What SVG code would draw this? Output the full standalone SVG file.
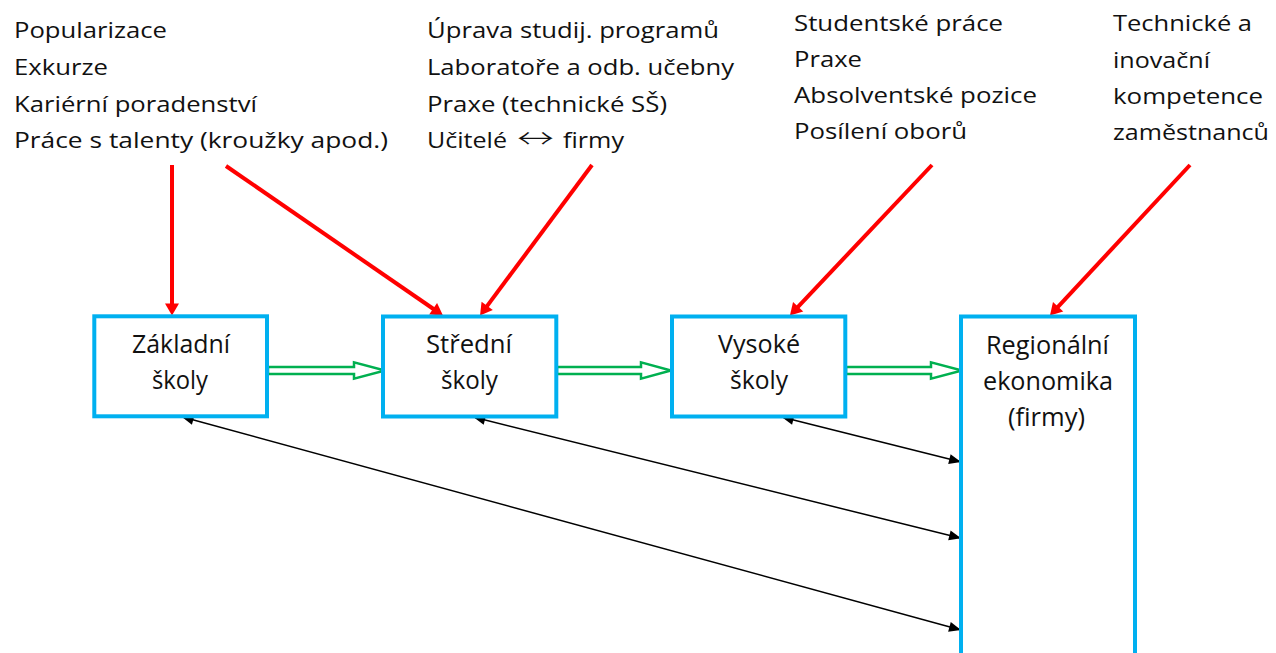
<svg xmlns="http://www.w3.org/2000/svg" width="1276" height="653" viewBox="0 0 1276 653">
<style>
.bg{fill:#ffffff}
.box{fill:#ffffff;stroke:#00B0F0;stroke-width:4}
.lbl{font-family:"Open Sans","Liberation Sans","DejaVu Sans",sans-serif;font-size:22px;fill:#111111}
.bt{font-family:"Open Sans","Liberation Sans","DejaVu Sans",sans-serif;font-size:25px;fill:#111111;text-anchor:middle}
.arr{font-family:"Noto Sans CJK SC","DejaVu Sans",sans-serif;font-size:26px;font-weight:300}
.red{stroke:#FF0000;stroke-width:4;fill:none;marker-end:url(#rh)}
.blk{stroke:#000000;stroke-width:1.5;fill:none;marker-start:url(#bh);marker-end:url(#bh)}
.grn{fill:#ffffff;stroke:#00B050;stroke-width:2.5;stroke-linejoin:miter}
</style>
<defs>
<marker id="rh" markerUnits="userSpaceOnUse" markerWidth="14" markerHeight="14" refX="4" refY="7" orient="auto" overflow="visible">
<path d="M0,0 L12,7 L0,14 z" fill="#FF0000"/>
</marker>
<marker id="bh" markerUnits="userSpaceOnUse" markerWidth="12" markerHeight="10" refX="10" refY="5" orient="auto-start-reverse" overflow="visible">
<path d="M0,0 L12,5 L0,10 z" fill="#000000"/>
</marker>
</defs>
<rect class="bg" x="0" y="0" width="1276" height="653"/>

<g id="connectors">
<g id="green-flow">
<polygon class="grn" points="268,367 354,367 354,362.3 385,370.5 354,378.7 354,374 268,374"/>
<polygon class="grn" points="557,367 641,367 641,362.3 671,370.5 641,378.7 641,374 557,374"/>
<polygon class="grn" points="846,367 931,367 931,362.3 962,370.5 931,378.7 931,374 846,374"/>
</g>
<g id="red-arrows">
<line class="red" x1="172" y1="165" x2="172" y2="307.5"/>
<line class="red" x1="226" y1="166" x2="436.4" y2="311"/>
<line class="red" x1="592" y1="165" x2="484.8" y2="309.1"/>
<line class="red" x1="932" y1="165" x2="795.4" y2="309.6"/>
<line class="red" x1="1190" y1="165" x2="1055.4" y2="309.6"/>
</g>
<g id="black-arrows">
<line class="blk" x1="183.6" y1="417.2" x2="959.1" y2="629.5"/>
<line class="blk" x1="475.2" y1="417.5" x2="959.1" y2="537.8"/>
<line class="blk" x1="783.6" y1="417.5" x2="959.1" y2="461.5"/>
</g>
</g>

<g id="node-zakladni">
<rect class="box" x="94.3" y="316.3" width="172.7" height="100"/>
<text class="bt" x="181" y="353" textLength="98" lengthAdjust="spacingAndGlyphs">Základní</text>
<text class="bt" x="180" y="389" textLength="56" lengthAdjust="spacingAndGlyphs">školy</text>
</g>
<g id="node-stredni">
<rect class="box" x="383" y="316.5" width="173.3" height="100"/>
<text class="bt" x="469" y="353" textLength="86" lengthAdjust="spacingAndGlyphs">Střední</text>
<text class="bt" x="469.5" y="389" textLength="57" lengthAdjust="spacingAndGlyphs">školy</text>
</g>
<g id="node-vysoke">
<rect class="box" x="672" y="316.5" width="173.3" height="100"/>
<text class="bt" x="759" y="353" textLength="82" lengthAdjust="spacingAndGlyphs">Vysoké</text>
<text class="bt" x="759" y="389" textLength="58" lengthAdjust="spacingAndGlyphs">školy</text>
</g>
<g id="node-regionalni">
<rect class="box" x="961" y="316.5" width="174" height="400"/>
<text class="bt" x="1047.5" y="354" textLength="123" lengthAdjust="spacingAndGlyphs">Regionální</text>
<text class="bt" x="1048" y="390" textLength="130" lengthAdjust="spacingAndGlyphs">ekonomika</text>
<text class="bt" x="1046.5" y="426" textLength="77" lengthAdjust="spacingAndGlyphs">(firmy)</text>
</g>

<g id="text-zs">
<text class="lbl" x="14" y="38" textLength="153" lengthAdjust="spacingAndGlyphs">Popularizace</text>
<text class="lbl" x="14" y="75" textLength="94" lengthAdjust="spacingAndGlyphs">Exkurze</text>
<text class="lbl" x="14" y="111.7" textLength="243" lengthAdjust="spacingAndGlyphs">Kariérní poradenství</text>
<text class="lbl" x="14" y="148.3" textLength="374" lengthAdjust="spacingAndGlyphs">Práce s talenty (kroužky apod.)</text>
</g>
<g id="text-ss">
<text class="lbl" x="427" y="38" textLength="292" lengthAdjust="spacingAndGlyphs">Úprava studij. programů</text>
<text class="lbl" x="427" y="75" textLength="307" lengthAdjust="spacingAndGlyphs">Laboratoře a odb. učebny</text>
<text class="lbl" x="427" y="111.7" textLength="240" lengthAdjust="spacingAndGlyphs">Praxe (technické SŠ)</text>
<text class="lbl" y="148.3"><tspan x="427" textLength="80" lengthAdjust="spacingAndGlyphs">Učitelé</tspan><tspan class="arr" x="517" textLength="37" lengthAdjust="spacingAndGlyphs">↔</tspan><tspan x="563" textLength="61" lengthAdjust="spacingAndGlyphs">firmy</tspan></text>
</g>
<g id="text-vs">
<text class="lbl" x="794" y="30.7" textLength="209" lengthAdjust="spacingAndGlyphs">Studentské práce</text>
<text class="lbl" x="794" y="66.7" textLength="68" lengthAdjust="spacingAndGlyphs">Praxe</text>
<text class="lbl" x="794" y="103.3" textLength="243" lengthAdjust="spacingAndGlyphs">Absolventské pozice</text>
<text class="lbl" x="794" y="139.3" textLength="173" lengthAdjust="spacingAndGlyphs">Posílení oborů</text>
</g>
<g id="text-firmy">
<text class="lbl" x="1113" y="31" textLength="139" lengthAdjust="spacingAndGlyphs">Technické a</text>
<text class="lbl" x="1113" y="67.5" textLength="97" lengthAdjust="spacingAndGlyphs">inovační</text>
<text class="lbl" x="1113" y="104" textLength="150" lengthAdjust="spacingAndGlyphs">kompetence</text>
<text class="lbl" x="1113" y="140" textLength="156" lengthAdjust="spacingAndGlyphs">zaměstnanců</text>
</g>
</svg>
